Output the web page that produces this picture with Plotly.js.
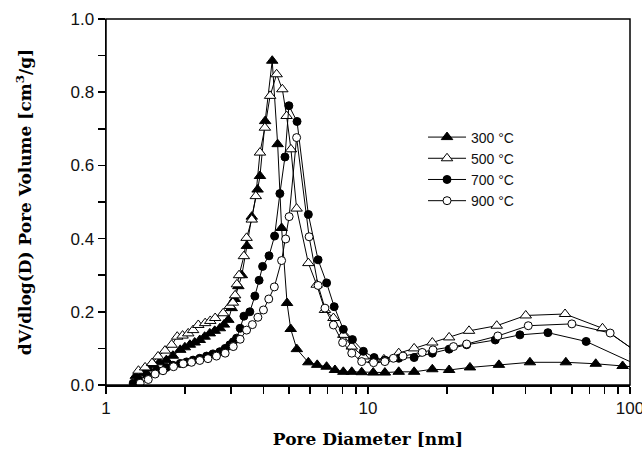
<!DOCTYPE html>
<html>
<head>
<meta charset="utf-8">
<script src="https://cdn.plot.ly/plotly-3.0.1.min.js"></script>
<style>html,body{margin:0;padding:0;background:#fff;}#chart{width:642px;height:458px;}</style>
</head>
<body>
<div id="chart"></div>
<script>
// 300 °C (filled triangles)
var x300 = [1.30,1.39,1.45,1.52,1.60,1.70,1.80,1.92,2.00,2.09,2.18,2.28,2.38,2.49,2.60,2.72,2.82,2.93,3.02,3.10,3.20,3.30,3.45,3.60,3.79,3.87,4.05,4.31,4.52,4.68,4.91,5.07,5.35,5.92,6.40,6.95,7.48,8.05,8.67,9.46,10.47,11.6,13.1,15.0,17.6,20.4,24.5,31.6,41.5,56.9,74,93.7,105];
var y300 = [0.025,0.032,0.045,0.055,0.062,0.068,0.080,0.096,0.103,0.110,0.116,0.123,0.132,0.141,0.148,0.155,0.165,0.178,0.210,0.235,0.270,0.300,0.380,0.460,0.534,0.571,0.721,0.886,0.658,0.429,0.224,0.153,0.098,0.062,0.055,0.050,0.041,0.036,0.036,0.035,0.034,0.034,0.036,0.036,0.043,0.041,0.048,0.055,0.062,0.062,0.058,0.052,0.049];

// 500 °C (open triangles)
var x500 = [1.33,1.41,1.50,1.58,1.68,1.78,1.87,1.96,2.06,2.15,2.25,2.39,2.50,2.61,2.80,2.97,3.05,3.11,3.16,3.22,3.36,3.44,3.60,3.73,3.87,4.04,4.23,4.48,4.71,4.89,5.08,5.34,5.92,6.37,6.85,7.38,8.05,8.67,9.60,10.5,11.5,13.1,15.0,17.6,20.4,24.3,31.0,40.0,56.5,78.5,105];
var y500 = [0.039,0.048,0.060,0.078,0.094,0.110,0.132,0.135,0.141,0.150,0.164,0.169,0.175,0.183,0.196,0.216,0.225,0.245,0.275,0.300,0.352,0.402,0.452,0.516,0.635,0.703,0.790,0.849,0.808,0.735,0.644,0.482,0.333,0.274,0.205,0.183,0.137,0.105,0.078,0.068,0.070,0.087,0.100,0.116,0.130,0.148,0.162,0.190,0.194,0.155,0.093];

// 700 °C (filled circles)
var x700 = [1.27,1.33,1.43,1.56,1.70,1.80,1.92,2.03,2.15,2.28,2.42,2.56,2.72,2.85,2.97,3.06,3.15,3.25,3.36,3.54,3.70,3.84,3.96,4.19,4.40,4.61,4.82,4.99,5.36,5.92,6.45,6.95,7.43,8.05,8.72,9.60,10.55,11.6,13.1,15.0,17.6,20.4,23.8,30.6,38.0,48.6,68.0,105];
var y700 = [0.005,0.015,0.027,0.039,0.048,0.054,0.059,0.063,0.068,0.073,0.079,0.085,0.091,0.100,0.110,0.118,0.128,0.155,0.188,0.200,0.243,0.286,0.324,0.353,0.407,0.523,0.623,0.763,0.720,0.466,0.342,0.279,0.214,0.152,0.124,0.092,0.075,0.068,0.073,0.075,0.087,0.098,0.110,0.123,0.137,0.143,0.119,0.057];

// 900 °C (open circles)
var x900 = [1.35,1.45,1.54,1.65,1.81,1.97,2.12,2.28,2.45,2.64,2.85,3.06,3.25,3.44,3.62,3.80,3.99,4.18,4.39,4.68,4.85,5.00,5.34,5.96,6.45,6.85,7.38,8.00,8.67,9.46,10.5,11.6,12.5,13.6,16.1,17.7,21.2,23.8,31.3,40.9,60.0,84.0,105];
var y900 = [0.005,0.015,0.030,0.039,0.050,0.058,0.062,0.067,0.072,0.079,0.087,0.105,0.125,0.150,0.165,0.185,0.205,0.235,0.268,0.340,0.399,0.460,0.676,0.405,0.272,0.210,0.164,0.116,0.087,0.064,0.061,0.064,0.073,0.079,0.089,0.096,0.105,0.112,0.134,0.162,0.167,0.142,0.092];

var seriesNames = ['300 \u00B0C','500 \u00B0C','700 \u00B0C','900 \u00B0C'];
// tick positions (labelled majors plus unlabelled minors)
var xTickVals = [1,2,3,4,5,6,7,8,9,10,20,30,40,50,60,70,80,90,100];
var xTickText = ['1','','','','','','','','','10','','','','','','','','','100'];
var yTickVals = [0,0.1,0.2,0.3,0.4,0.5,0.6,0.7,0.8,0.9,1.0];
var yTickText = ['0.0','','0.2','','0.4','','0.6','','0.8','','1.0'];

function tr(x, y, name, symbol, fill) {
  return {
    x: x, y: y, name: name, type: 'scatter', mode: 'lines+markers',
    line: {color: '#000', width: 1},
    marker: {symbol: symbol, size: symbol.indexOf('triangle') === 0 ? 10 : 8, color: fill, line: {color: '#000', width: 1}}
  };
}

var data = [
  tr(x300, y300, seriesNames[0], 'triangle-up', '#000'),
  tr(x500, y500, seriesNames[1], 'triangle-up', '#fff'),
  tr(x700, y700, seriesNames[2], 'circle', '#000'),
  tr(x900, y900, seriesNames[3], 'circle', '#fff')
];

var tickFont = {family: 'Liberation Sans, Arial, sans-serif', size: 17, color: '#111'};
var titleFont = {family: 'DejaVu Serif, serif', size: 17, color: '#000', weight: 'bold'};

var layout = {
  width: 642, height: 458,
  margin: {l: 106, r: 12, t: 19, b: 73},
  paper_bgcolor: '#fff', plot_bgcolor: '#fff',
  showlegend: true,
  legend: {x: 0.605, y: 0.72, xanchor: 'left', yanchor: 'top', bgcolor: 'rgba(0,0,0,0)', itemwidth: 38,
           font: {family: 'Liberation Sans, Arial, sans-serif', size: 14, color: '#111'}, tracegroupgap: 0},
  shapes: [{type: 'rect', xref: 'paper', yref: 'paper', x0: 0, x1: 1, y0: 0, y1: 1,
            line: {color: '#000', width: 1.5}, fillcolor: 'rgba(0,0,0,0)', layer: 'above'}],
  xaxis: {
    type: 'log', range: [0, 2], tickvals: xTickVals, ticktext: xTickText,
    ticks: 'outside', ticklen: 7, tickcolor: '#000', tickwidth: 1.5, ticklabeloverflow: 'allow',
    showline: true, linecolor: '#000', linewidth: 1.5, showgrid: false, zeroline: false,
    tickfont: tickFont,
    title: {text: 'Pore Diameter [nm]', font: titleFont, standoff: 16}
  },
  yaxis: {
    range: [0, 1.0], tickvals: yTickVals, ticktext: yTickText,
    ticks: 'outside', ticklen: 7, tickcolor: '#000', tickwidth: 1.5,
    showline: true, linecolor: '#000', linewidth: 1.5, showgrid: false, zeroline: false,
    tickfont: tickFont,
    title: {text: 'dV/dlog(D) Pore Volume [cm<sup>3</sup>/g]', font: titleFont, standoff: 34}
  }
};

Plotly.newPlot('chart', data, layout, {staticPlot: true, displayModeBar: false});
</script>
</body>
</html>
